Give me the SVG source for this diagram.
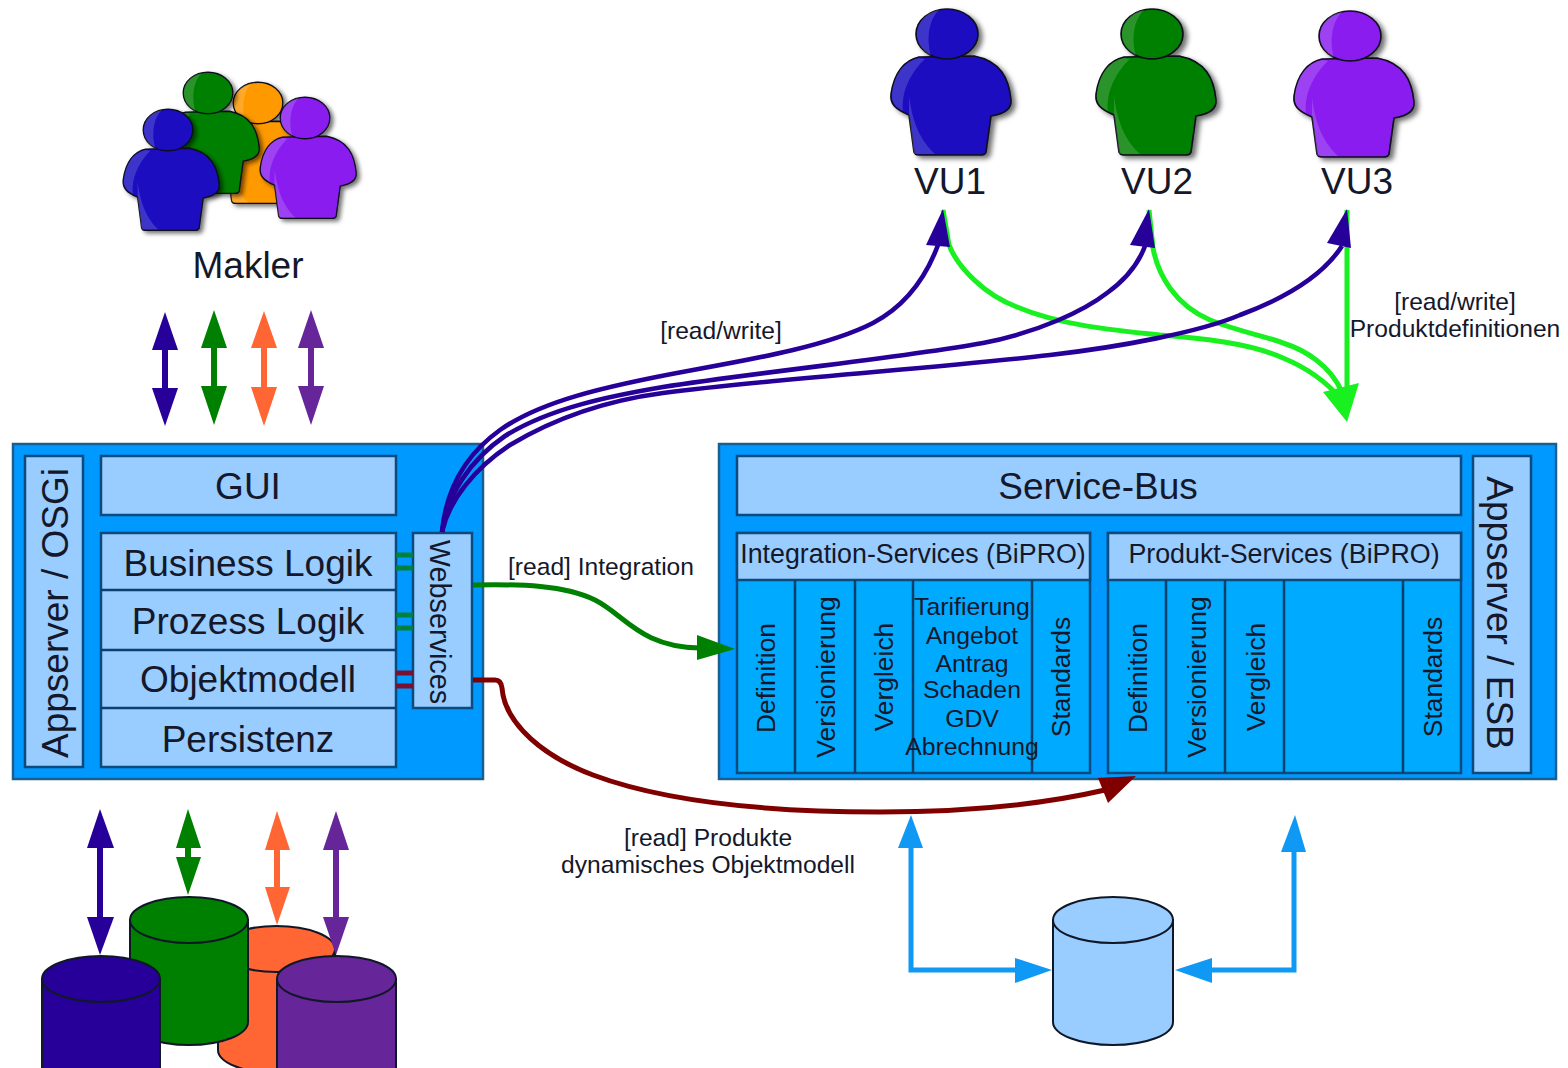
<svg xmlns="http://www.w3.org/2000/svg" width="1568" height="1068" viewBox="0 0 1568 1068">
<style>
text{font-family:"Liberation Sans",Arial,sans-serif;fill:#14182a;text-anchor:middle}
.outer{fill:#0099ff;stroke:#1a5f8f;stroke-width:2.5}
.inner{fill:#99ccff;stroke:#0d4a7d;stroke-width:2.5}
.col{fill:#00aaff;stroke:#0d4a7d;stroke-width:2.5}
.sep{stroke:#0d3f6d;stroke-width:2.5;fill:none}
.t37{font-size:37px}.t27{font-size:26.8px}.t26{font-size:26.4px}.t25{font-size:24.8px}.t24{font-size:24.6px}.t29{font-size:28.8px}
.cyl{stroke:#101828;stroke-width:2}
.line{fill:none;stroke-width:5}
.thin{fill:none;stroke-width:4.6}
.sh{fill:none;stroke-width:6}
.db path{stroke:#260099}.db polygon{fill:#260099}
.dg path{stroke:#008000}.dg polygon{fill:#008000}
.do path{stroke:#ff6633}.do polygon{fill:#ff6633}
.dp path{stroke:#662699}.dp polygon{fill:#662699}
</style>
<defs>
<filter id="shadow" x="-20%" y="-20%" width="150%" height="150%"><feDropShadow dx="4" dy="3" stdDeviation="2.500" flood-color="#000" flood-opacity=".55"/></filter>
<g id="person">
<path stroke="#0a0a1a" stroke-width="1.6" d="M-28,23C-42,26-53,38-56,60C-57,70-52,75-38,81L-33,118Q-32,121-28,121L34,121Q38,121 39,118L44,82C56,80 65,76 64,66C62,45 54,27 27,22Z"/>
<path fill="#fff" fill-opacity=".16" d="M-28,24C-42,27-53,39-55,60C-56,68-52,73-44,77C-46,60-38,40-22,25ZM-38,81L-33,120L-12,120C-25,108-34,92-38,62Z"/>
<ellipse stroke="#0a0a1a" stroke-width="1.6" cx="0" cy="0" rx="31" ry="25"/>
<path fill="#fff" fill-opacity=".16" d="M-8,-24C-22,-22-30,-10-30,0C-30,9-25,17-16,22C-20,8-20,-12-8,-24Z"/>
</g>
</defs>
<rect width="1568" height="1068" fill="#fff"/>

<g id="makler">
<use href="#person" transform="translate(258,103) scale(.8,.83)" fill="#ff9900" filter="url(#shadow)"/>
<use href="#person" transform="translate(208,93) scale(.8,.83)" fill="#008000" filter="url(#shadow)"/>
<use href="#person" transform="translate(168,130) scale(.8,.83)" fill="#1a0fc0" filter="url(#shadow)"/>
<use href="#person" transform="translate(305,118) scale(.8,.83)" fill="#8a1ff0" filter="url(#shadow)"/>
<text x="248" y="278" class="t37">Makler</text>
</g>
<g id="vu1"><use href="#person" transform="translate(947,34)" fill="#1a0fc0" filter="url(#shadow)"/><text x="950" y="194" class="t37">VU1</text></g>
<g id="vu2"><use href="#person" transform="translate(1152,34)" fill="#008000" filter="url(#shadow)"/><text x="1157" y="194" class="t37">VU2</text></g>
<g id="vu3"><use href="#person" transform="translate(1350,36)" fill="#8a1ff0" filter="url(#shadow)"/><text x="1357" y="194" class="t37">VU3</text></g>

<g id="portal">
<rect class="outer" x="13" y="444" width="470" height="335"/>
<rect class="inner" x="25" y="456" width="58" height="311"/>
<text class="t37" transform="translate(68,613) rotate(-90)">Appserver / OSGi</text>
<rect class="inner" x="101" y="456" width="295" height="59"/>
<text class="t37" x="248" y="499">GUI</text>
<rect class="inner" x="101" y="533" width="295" height="234"/>
<path class="sep" d="M101,590H396M101,650H396M101,708H396"/>
<text class="t37" x="248" y="576">Business Logik</text>
<text class="t37" x="248" y="634">Prozess Logik</text>
<text class="t37" x="248" y="692">Objektmodell</text>
<text class="t37" x="248" y="752">Persistenz</text>
<rect class="inner" x="413" y="533" width="59" height="175"/>
<text class="t29" transform="translate(430,622) rotate(90)">Webservices</text>
<path fill="none" stroke="#008040" stroke-width="5" d="M396,555H413M396,568H413M396,615H413M396,628H413"/>
<path fill="none" stroke="#7a1030" stroke-width="5" d="M396,673H413M396,686H413"/>
</g>

<g id="backend">
<rect class="outer" x="719" y="444" width="837" height="335"/>
<rect class="inner" x="737" y="456" width="724" height="59"/>
<text class="t37" x="1098" y="499">Service-Bus</text>
<rect class="inner" x="1473" y="456" width="58" height="317"/>
<text class="t37" transform="translate(1487,613) rotate(90)">Appserver / ESB</text>
</g>

<g id="integration-services">
<rect class="col" x="737" y="533" width="353" height="240"/>
<rect class="inner" x="737" y="533" width="353" height="47"/>
<path class="sep" d="M795,580V773M855,580V773M913,580V773M1032,580V773"/>
<text class="t27" x="913" y="563">Integration-Services (BiPRO)</text>
<text class="t26" transform="translate(775,678) rotate(-90)">Definition</text>
<text class="t26" transform="translate(835,677) rotate(-90)">Versionierung</text>
<text class="t26" transform="translate(893,677) rotate(-90)">Vergleich</text>
<text class="t26" transform="translate(1070,677) rotate(-90)">Standards</text>
<text class="t25" x="972" y="615">Tarifierung</text>
<text class="t25" x="972" y="644">Angebot</text>
<text class="t25" x="972" y="672">Antrag</text>
<text class="t25" x="972" y="698">Schaden</text>
<text class="t25" x="972" y="727">GDV</text>
<text class="t25" x="972" y="755">Abrechnung</text>
</g>

<g id="produkt-services">
<rect class="col" x="1108" y="533" width="353" height="240"/>
<rect class="inner" x="1108" y="533" width="353" height="47"/>
<path class="sep" d="M1166,580V773M1225,580V773M1284,580V773M1403,580V773"/>
<text class="t27" x="1284" y="563">Produkt-Services (BiPRO)</text>
<text class="t26" transform="translate(1147,678) rotate(-90)">Definition</text>
<text class="t26" transform="translate(1206,677) rotate(-90)">Versionierung</text>
<text class="t26" transform="translate(1265,677) rotate(-90)">Vergleich</text>
<text class="t26" transform="translate(1442,677) rotate(-90)">Standards</text>
</g>

<g id="db-left">
<g fill="#ff6633" class="cyl"><path d="M218,949V1050A58.500,23 0 0 0 335,1050V949Z"/><ellipse cx="276.500" cy="949" rx="58.500" ry="23"/></g>
<g fill="#008000" class="cyl"><path d="M130,920V1022A59,23 0 0 0 248,1022V920Z"/><ellipse cx="189" cy="920" rx="59" ry="23"/></g>
<g fill="#260099" class="cyl"><path d="M42,979V1081A59,23 0 0 0 160,1081V979Z"/><ellipse cx="101" cy="979" rx="59" ry="23"/></g>
<g fill="#662699" class="cyl"><path d="M277,979V1081A59.500,23 0 0 0 396,1081V979Z"/><ellipse cx="336.500" cy="979" rx="59.500" ry="23"/></g>
</g>
<g id="db-right" fill="#99ccff" class="cyl">
<path d="M1053,920V1022A60,23 0 0 0 1173,1022V920Z"/><ellipse cx="1113" cy="920" rx="60" ry="23"/>
</g>

<g id="connectors">
<g class="line" stroke="#19f020">
<path d="M943,210L949,245C958,268 985,295 1017,307C1060,325 1110,330 1160,335C1200,338 1250,343 1283,358C1305,367 1325,380 1342,400"/>
<path d="M1149,210L1153,248C1158,275 1175,305 1210,320C1240,332 1265,336 1283,343C1305,350 1330,365 1342,392"/>
<path d="M1347,210V400"/>
</g>
<polygon fill="#19f020" points="1347,422 1323,392 1359,383"/>
<g class="thin" stroke="#260099">
<path d="M442,532C446,490 465,455 500,430C540,402 600,387 693,370C760,358 830,345 873,323C905,306 925,280 938,245"/>
<path d="M442,532C447,495 470,460 505,436C550,408 610,396 663,387C760,372 900,358 983,343C1040,332 1085,310 1107,293C1125,280 1138,265 1145,246"/>
<path d="M442,532C449,500 475,468 510,445C560,415 610,400 663,393C780,378 940,368 1050,355C1120,347 1200,332 1240,315C1275,302 1320,280 1342,246"/>
</g>
<g fill="#260099">
<polygon points="943,209 926,245 950,247"/>
<polygon points="1149,209 1130,245 1155,248"/>
<polygon points="1347,209 1327,243 1351,248"/>
</g>
<path class="line" stroke="#008000" d="M473,585C520,584 565,585 595,600C625,615 640,647 700,648"/>
<polygon fill="#008000" points="735,649 697,635 697,660"/>
<path class="line" stroke="#800000" d="M473,680H495Q501,680 502,688C505,725 545,757 593,775C660,800 760,812 880,812C960,812 1040,805 1105,790"/>
<polygon fill="#800000" points="1136,776 1098,778 1108,803"/>
<g class="line" stroke="#0f99f5">
<path d="M911,848V970H1016"/>
<path d="M1294,852V970H1212"/>
</g>
<g fill="#0f99f5">
<polygon points="911,815 898,848 923,848"/>
<polygon points="1052,970 1015,958 1015,983"/>
<polygon points="1295,815 1281,852 1306,852"/>
<polygon points="1175,970 1212,958 1212,983"/>
</g>
<g class="db"><path class="sh" d="M165,348V390"/><polygon points="165,312 152,350 178,350"/><polygon points="152,388 178,388 165,426"/></g>
<g class="dg"><path class="sh" d="M214,346V388"/><polygon points="214,310 201,348 227,348"/><polygon points="201,386 227,386 214,425"/></g>
<g class="do"><path class="sh" d="M264,346V389"/><polygon points="264,311 251,348 277,348"/><polygon points="251,387 277,387 264,426"/></g>
<g class="dp"><path class="sh" d="M311,346V388"/><polygon points="311,310 298,348 324,348"/><polygon points="298,386 324,386 311,425"/></g>
<g class="db"><path class="sh" d="M100,846V919"/><polygon points="100,809 87,848 114,848"/><polygon points="87,917 114,917 100,955"/></g>
<g class="dg"><path class="sh" d="M188,846V859"/><polygon points="188,809 176,848 201,848"/><polygon points="176,857 201,857 188,895"/></g>
<g class="do"><path class="sh" d="M277,848V889"/><polygon points="277,811 265,850 290,850"/><polygon points="265,887 290,887 277,925"/></g>
<g class="dp"><path class="sh" d="M336,848V919"/><polygon points="336,811 323,850 349,850"/><polygon points="323,917 349,917 336,955"/></g>
</g>

<g id="labels">
<text class="t24" x="721" y="339">[read/write]</text>
<text class="t24" x="601" y="575">[read] Integration</text>
<text class="t24" x="1455" y="310">[read/write]</text>
<text class="t24" x="1455" y="337">Produktdefinitionen</text>
<text class="t24" x="708" y="846">[read] Produkte</text>
<text class="t24" x="708" y="873">dynamisches Objektmodell</text>
</g>
</svg>
